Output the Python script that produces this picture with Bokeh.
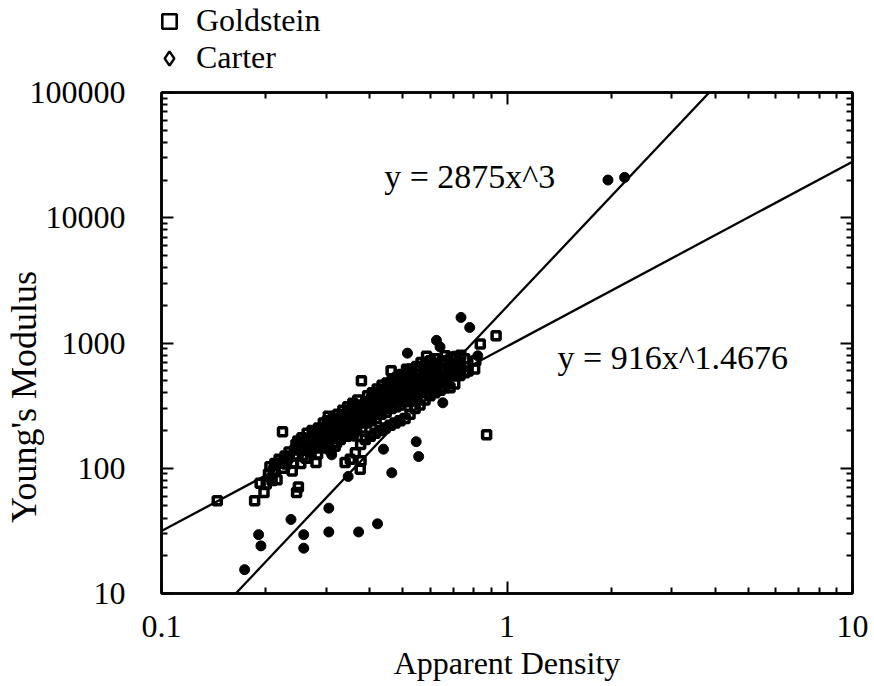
from bokeh.plotting import figure
from bokeh.layouts import column
from bokeh.models import (LogAxis, Label, Legend, LegendItem, Range1d,
                          FixedTicker, CustomJSTickFormatter)
from bokeh.embed import file_html
from bokeh.resources import INLINE

# ---------------- data ----------------
x_ticks = [0.1, 1, 10]
y_ticks = [10, 100, 1000, 10000, 100000]

goldstein_density = [
    0.145, 0.186, 0.193, 0.198,
    0.201, 0.204, 0.206,
    0.209, 0.211, 0.213,
    0.216, 0.218, 0.219,
    0.224,
    0.225, 0.227, 0.228,
    0.230, 0.232, 0.234,
    0.239, 0.241, 0.243, 0.245,
    0.246, 0.249, 0.247, 0.250, 0.248,
    0.253, 0.256, 0.254, 0.257, 0.255,
    0.262, 0.265, 0.263, 0.266, 0.264,
    0.271, 0.274, 0.272, 0.275, 0.273,
    0.280, 0.283, 0.281, 0.284, 0.282, 0.285,
    0.289, 0.292, 0.290, 0.293, 0.291, 0.294,
    0.298, 0.301, 0.299, 0.303, 0.300, 0.302, 0.304,
    0.309, 0.312, 0.310, 0.313, 0.311, 0.314,
    0.318, 0.321, 0.319, 0.323, 0.320, 0.322, 0.324,
    0.329, 0.332, 0.330, 0.334, 0.331, 0.333, 0.335,
    0.340, 0.343, 0.341, 0.345, 0.342, 0.344, 0.346,
    0.352, 0.355, 0.353, 0.357, 0.354, 0.356, 0.358,
    0.364, 0.367, 0.365, 0.369, 0.366, 0.368, 0.370,
    0.376, 0.378, 0.377, 0.380, 0.379, 0.381, 0.378, 0.382, 0.379,
    0.389, 0.392, 0.390, 0.394, 0.391, 0.393, 0.395,
    0.402, 0.405, 0.403, 0.407, 0.404, 0.406, 0.408,
    0.415, 0.418, 0.416, 0.420, 0.417, 0.419, 0.421,
    0.429, 0.432, 0.430, 0.434, 0.431, 0.433, 0.435,
    0.444, 0.447, 0.445, 0.449, 0.446, 0.448, 0.450,
    0.459, 0.462, 0.460, 0.464, 0.461, 0.463, 0.465, 0.462,
    0.474, 0.477, 0.475, 0.479, 0.476, 0.478, 0.480,
    0.490, 0.493, 0.491, 0.495, 0.492, 0.494, 0.496,
    0.507, 0.510, 0.508, 0.512, 0.509, 0.511, 0.513, 0.512,
    0.524, 0.527, 0.525, 0.529, 0.526, 0.528,
    0.542, 0.545, 0.543, 0.547, 0.544, 0.546, 0.548,
    0.560, 0.563, 0.561, 0.565, 0.562, 0.564,
    0.579, 0.582, 0.580, 0.584, 0.581, 0.583, 0.585,
    0.598, 0.601, 0.599, 0.603, 0.600,
    0.618, 0.621, 0.619, 0.623, 0.620,
    0.640, 0.643, 0.641, 0.645,
    0.661, 0.664, 0.662, 0.666, 0.663,
    0.684, 0.687, 0.685, 0.689,
    0.706, 0.709, 0.707, 0.711,
    0.730, 0.733, 0.731, 0.735,
    0.754, 0.757, 0.755,
    0.772,
    0.806, 0.812,
    0.837, 0.873, 0.930,
]
goldstein_modulus = [
    55, 55, 76, 64,
    75, 90, 103,
    80, 97, 109,
    81, 110, 118,
    196,
    100, 115, 125,
    108, 120, 135,
    95, 110, 140, 155,
    64, 71, 125, 150, 165,
    109, 125, 140, 155, 175,
    120, 140, 150, 170, 190,
    133, 150, 160, 185, 200,
    111, 130, 155, 175, 190, 210,
    145, 160, 170, 185, 200, 230,
    150, 165, 180, 195, 215, 240, 260,
    140, 175, 190, 205, 225, 250,
    150, 160, 190, 210, 230, 245, 270,
    170, 185, 200, 215, 240, 260, 290,
    111, 180, 200, 220, 240, 260, 310,
    118, 190, 210, 230, 250, 280, 330,
    133, 200, 225, 250, 270, 300, 350,
    98, 115, 155, 210, 240, 260, 290, 320, 500,
    170, 230, 250, 280, 300, 340, 380,
    180, 240, 270, 300, 330, 360, 400,
    190, 250, 280, 320, 350, 380, 430,
    200, 270, 300, 340, 370, 400, 460,
    210, 280, 320, 350, 390, 420, 480,
    220, 300, 340, 380, 410, 450, 500, 600,
    230, 310, 360, 400, 440, 470, 530,
    240, 320, 380, 420, 460, 500, 560,
    250, 340, 400, 440, 480, 520, 580, 618,
    270, 360, 420, 460, 540, 620,
    300, 380, 430, 480, 520, 560, 650,
    320, 400, 450, 500, 600, 700,
    350, 430, 470, 520, 620, 680, 785,
    380, 450, 540, 650, 720,
    400, 470, 560, 680, 750,
    420, 500, 600, 700,
    440, 520, 620, 720, 790,
    440, 550, 650, 760,
    470, 580, 680, 780,
    550, 620, 700, 800,
    580, 650, 750,
    598,
    620, 720,
    980, 185, 1140,
]

carter_density = [0.174, 0.191, 0.194, 0.237, 0.258, 0.258, 0.305, 0.305,
                  0.372, 0.422, 0.464, 0.439, 0.555, 0.546, 0.311, 0.347,
                  0.736, 0.780, 0.515, 0.625, 0.640, 0.652, 0.823, 1.96, 2.19,
                  0.33, 0.40, 0.45, 0.50, 0.60, 0.70, 0.42, 0.36, 0.27]
carter_modulus = [15.5, 29.5, 24, 39, 29.5, 23, 48, 31,
                  31, 36, 92, 142, 124, 163, 128, 86,
                  1600, 1330, 830, 1050, 930, 333, 790, 20000, 21000,
                  210, 260, 330, 420, 560, 650, 380, 180, 140]

# fitted power-law lines (end points as drawn)
fit_power_x = [0.1, 10]
fit_power_y = [31.5, 28000]
fit_cubic_x = [0.164, 3.85]
fit_cubic_y = [10, 100000]

FONT = "Liberation Serif"
FS = "32px"
W = 874
LEG_H = 72
MAIN_H = 686 - LEG_H

# ---------------- legend strip (above the plot) ----------------
lf = figure(width=W, height=LEG_H, output_backend="svg", toolbar_location=None,
            x_axis_location=None, y_axis_location=None, min_border=0,
            x_range=Range1d(0, 1), y_range=Range1d(0, 1))
lf.grid.visible = False
lf.outline_line_color = None
lf.background_fill_color = "white"
lf.border_fill_color = "white"
key_g = lf.scatter(goldstein_density, goldstein_modulus, marker="square",
                   fill_color=None, line_color="black", line_width=2.6,
                   visible=False)
key_c = lf.scatter(carter_density, carter_modulus, marker="diamond",
                   fill_color=None, line_color="black", line_width=2.4,
                   visible=False)
legend = Legend(items=[LegendItem(label="Goldstein", renderers=[key_g]),
                       LegendItem(label="Carter", renderers=[key_c])],
                location=(-10, -4), orientation="vertical",
                label_text_font=FONT, label_text_font_size=FS,
                label_text_color="black", glyph_width=36, glyph_height=36,
                label_standoff=9, label_height=36, spacing=0, padding=0,
                margin=0, border_line_color=None, background_fill_alpha=0,
                inactive_fill_alpha=0)
lf.add_layout(legend, "center")

# ---------------- main plot ----------------
p = figure(width=W, height=MAIN_H, x_axis_type="log", y_axis_type="log",
           x_range=Range1d(0.1, 10), y_range=Range1d(10, 100000),
           output_backend="svg", toolbar_location=None,
           min_border_left=158, min_border_right=22,
           min_border_top=92 - LEG_H, min_border_bottom=93)
p.grid.visible = False
p.outline_line_color = "black"
p.outline_line_width = 2.5
p.background_fill_color = "white"
p.border_fill_color = "white"

x_minor = [m * 10 ** k for k in (-1, 0) for m in range(2, 10)]
y_minor = [m * 10 ** k for k in (1, 2, 3, 4) for m in range(2, 10)]
fmt = CustomJSTickFormatter(code="return String(tick);")
blank = CustomJSTickFormatter(code="return '';")


def style_axis(ax, ticks, minor, show_labels):
    ax.ticker = FixedTicker(ticks=ticks, minor_ticks=minor)
    ax.axis_line_width = 2.5
    ax.axis_line_color = "black"
    ax.major_tick_in = 12
    ax.major_tick_out = 0
    ax.minor_tick_in = 6
    ax.minor_tick_out = 0
    ax.major_tick_line_width = 2
    ax.minor_tick_line_width = 2
    ax.major_label_text_font = FONT
    ax.major_label_text_color = "black"
    if show_labels:
        ax.formatter = fmt
        ax.major_label_text_font_size = FS
    else:
        ax.formatter = blank
        ax.major_label_text_font_size = "0px"
        ax.major_label_standoff = 0


xa = p.xaxis[0]
ya = p.yaxis[0]
style_axis(xa, x_ticks, x_minor, True)
style_axis(ya, y_ticks, y_minor, True)
xa.major_label_standoff = 22
ya.major_label_standoff = 36

xa.axis_label = "Apparent Density"
xa.axis_label_text_font = FONT
xa.axis_label_text_font_size = FS
xa.axis_label_text_font_style = "normal"
xa.axis_label_text_color = "black"
xa.axis_label_standoff = 5

# the y title sits lower than the frame centre in the original; trailing
# no-break spaces shift the visible words down along the axis
ya.axis_label = "Young's Modulus" + "\u00a0" * 12
ya.axis_label_text_font = FONT
ya.axis_label_text_font_size = "36px"
ya.axis_label_text_font_style = "normal"
ya.axis_label_text_color = "black"
ya.axis_label_standoff = -17

top = LogAxis()
style_axis(top, x_ticks, x_minor, False)
p.add_layout(top, "above")
right = LogAxis()
style_axis(right, y_ticks, y_minor, False)
p.add_layout(right, "right")

# fitted lines
p.line(fit_power_x, fit_power_y, line_color="black", line_width=2.3)
p.line(fit_cubic_x, fit_cubic_y, line_color="black", line_width=2.3)

# data
p.scatter(goldstein_density, goldstein_modulus, marker="square", size=8,
          fill_color=None, line_color="black", line_width=3.5)
p.scatter(carter_density, carter_modulus, marker="circle", size=10,
          fill_color="black", line_color="black", line_width=1)

# equations
p.add_layout(Label(x=0.441, y=21300, text="y = 2875x^3", text_align="left",
                   text_baseline="middle", text_font=FONT, text_font_size="34px",
                   text_color="black"))
p.add_layout(Label(x=1.40, y=760, text="y = 916x^1.4676", text_align="left",
                   text_baseline="middle", text_font=FONT, text_font_size="34px",
                   text_color="black"))

layout = column(lf, p, spacing=0)
open("out.html", "w").write(file_html(layout, INLINE))
